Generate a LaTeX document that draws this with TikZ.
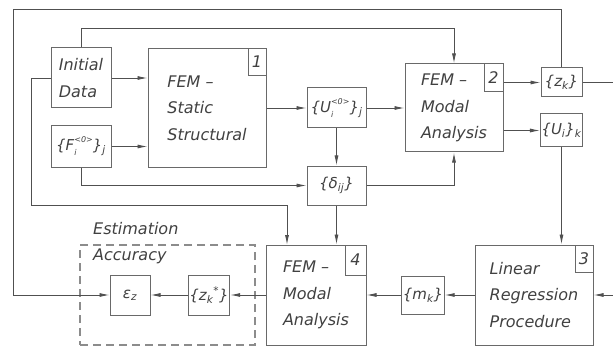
\documentclass[tikz,border=0pt]{standalone}
\usepackage{fontspec}
\setmainfont{DejaVu Sans}
\usetikzlibrary{arrows.meta}
\definecolor{ln}{RGB}{80,80,80}
\definecolor{bx}{RGB}{105,105,105}
\definecolor{tx}{RGB}{65,65,65}
\definecolor{dsh}{RGB}{140,140,140}
\newcommand{\fsz}{\fontsize{16}{26.5}\selectfont\itshape}
\newcommand{\fsm}{\fontsize{15}{18}\selectfont\itshape}
\newcommand{\mysubsup}[2]{\makebox[0pt][l]{\raisebox{-5pt}{\fontsize{8}{8}\selectfont #1}}\raisebox{8pt}{\fontsize{8}{8}\selectfont #2}}
\begin{document}
\begin{tikzpicture}[x=1pt,y=-1pt,
  box/.style={draw=bx, line width=1pt, rectangle, inner sep=1pt, font=\fsz, text=tx, align=left},
  fbox/.style={draw=bx, line width=1pt, rectangle, inner sep=1pt, font=\fsm, text=tx, align=center},
  numbox/.style={draw=bx, line width=1pt, rectangle, inner sep=0pt, font=\fsz, text=tx, anchor=north east},
  dashbox/.style={draw=dsh, line width=1.2pt, dash pattern=on 8pt off 5pt, rectangle},
  lbl/.style={font=\fsz, text=tx, align=left, inner sep=0pt},
  wire/.style={draw=ln, line width=0.9pt},
  arr/.style={-{Latex[length=10pt,width=4pt]}}
]
\path[use as bounding box, fill=white] (0,0) rectangle (613,350);

% blocks
\node[box, minimum width=60pt, minimum height=60pt] (init) at (81,78) {Initial\\Data};
\node[fbox, minimum width=60pt, minimum height=41pt] (F) at (81,146.5) {\{F\mysubsup{i}{<0>}\}\textsubscript{j}};
\node[box, minimum width=118pt, minimum height=119pt] (fem1) at (207,108) {FEM –\\Static\\Structural};
\node[numbox, minimum width=18pt, minimum height=27pt] (n1) at (fem1.north east) {1};
\node[fbox, minimum width=59pt, minimum height=40pt] (U) at (336.5,108) {\{U\mysubsup{i}{<0>}\}\textsubscript{j}};
\node[box, minimum width=98pt, minimum height=88pt] (fem2) at (454,108) {FEM –\\Modal\\Analysis};
\node[numbox, minimum width=19pt, minimum height=28pt] (n2) at (fem2.north east) {2};
\node[fbox, minimum width=41pt, minimum height=29pt] (zk) at (561.5,82.5) {\{z\textsubscript{k}\}};
\node[fbox, minimum width=41pt, minimum height=33pt] (Uk) at (561.5,130.5) {\{U\textsubscript{i}\}\textsubscript{k}};
\node[fbox, minimum width=59pt, minimum height=39pt] (delta) at (336.5,185.5) {\{δ\textsubscript{ij}\}};
\node[box, minimum width=100pt, minimum height=100pt] (fem4) at (316,295) {FEM –\\Modal\\Analysis};
\node[numbox, minimum width=21pt, minimum height=30pt] (n4) at (fem4.north east) {4};
\node[fbox, minimum width=40pt, minimum height=38pt] (mk) at (423,295) {\{m\textsubscript{k}\}};
\node[box, minimum width=118pt, minimum height=100pt] (lrp) at (534,295) {Linear\\Regression\\Procedure};
\node[numbox, minimum width=18pt, minimum height=27pt] (n3) at (lrp.north east) {3};
\node[dashbox, minimum width=175pt, minimum height=100pt] (est) at (167.5,295) {};
\node[lbl, anchor=north west] (estl) at (93,222) {Estimation\\Accuracy};
\node[fbox, minimum width=40pt, minimum height=40pt] (eps) at (130,295) {ε\textsubscript{z}};
\node[fbox, minimum width=40pt, minimum height=40pt] (zks) at (209,295) {\{z\textsubscript{k}\textsuperscript{*}\}};

% free coordinates
\coordinate (topL) at (13,9);
\coordinate (top2) at (454,28);
\coordinate (l12) at (31,205);
\coordinate (l12b) at (287,205);
\coordinate (l12c) at (287,245);
\coordinate (zout) at (613,82.5);
\coordinate (rin) at (613,295);

% connectors
\draw[wire,arr] (zk.north) |- (topL) |- (eps.west);
\draw[wire,arr] (init.north) |- (top2) -- (fem2.north);
\draw[wire,arr] (init.east) -- (init.east -| fem1.west);
\draw[wire,arr] (F.east) -- (F.east -| fem1.west);
\draw[wire,arr] (fem1.east) -- (U.west);
\draw[wire,arr] (U.east) -- (fem2.west);
\draw[wire,arr] (U.south) -- (delta.north);
\draw[wire,arr] (zk.west -| fem2.east) -- (zk.west);
\draw[wire,arr] (Uk.west -| fem2.east) -- (Uk.west);
\draw[wire] (zk.east) -- (zout);
\draw[wire,arr] (Uk.south) -- (Uk.south |- lrp.north);
\draw[wire,arr] (init.west) -| (l12) -- (l12b) -- (l12c);
\draw[wire,arr] (F.south) |- (delta.west);
\draw[wire,arr] (delta.east) -| (fem2.south);
\draw[wire,arr] (delta.south) -- (delta.south |- fem4.north);
\draw[wire,arr] (lrp.west) -- (mk.east);
\draw[wire,arr] (mk.west) -- (fem4.east);
\draw[wire,arr] (fem4.west) -- (zks.east);
\draw[wire,arr] (zks.west) -- (eps.east);
\draw[wire,arr] (rin) -- (lrp.east);
\end{tikzpicture}
\end{document}
